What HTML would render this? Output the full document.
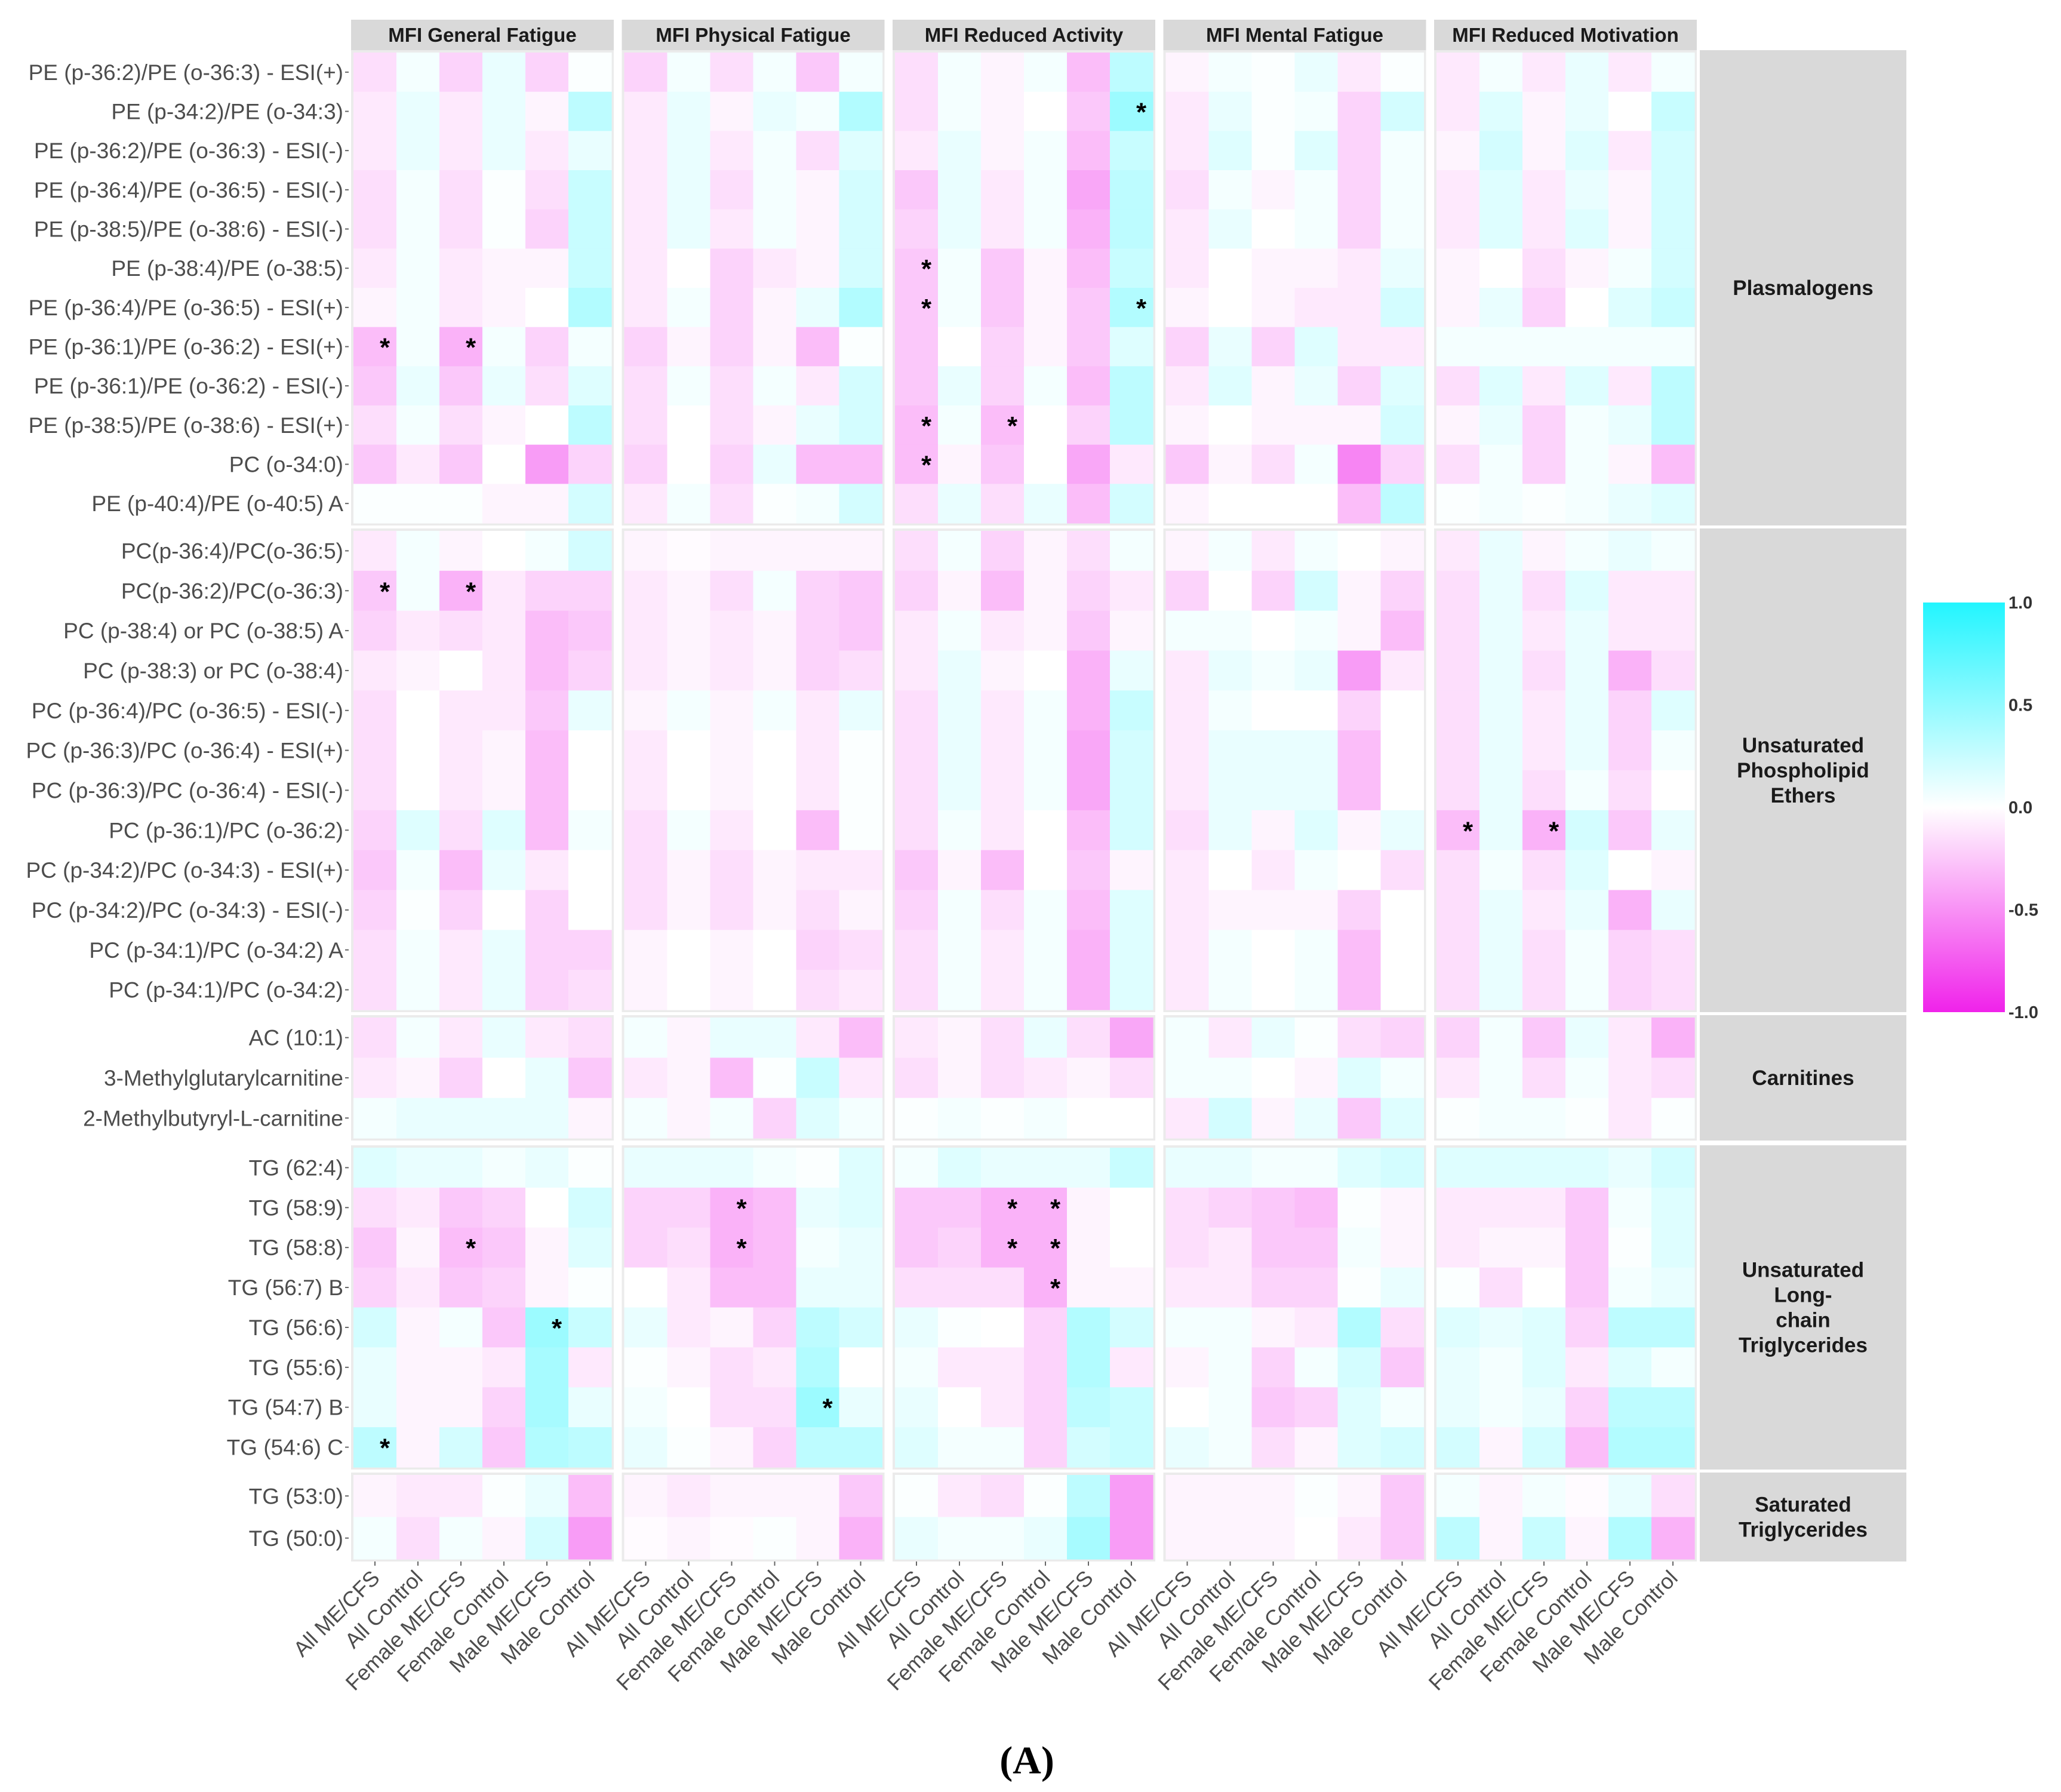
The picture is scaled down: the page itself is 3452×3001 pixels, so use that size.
<!DOCTYPE html>
<html><head><meta charset="utf-8">
<style>
html,body{margin:0;padding:0;background:#fff;}
svg{display:block;font-family:"Liberation Sans",Arial,sans-serif;}
</style></head>
<body>
<svg id="chart" width="3452" height="3001" viewBox="0 0 3452 3001" xmlns="http://www.w3.org/2000/svg"></svg>
<script>
const panelNames = ["MFI General Fatigue","MFI Physical Fatigue","MFI Reduced Activity","MFI Mental Fatigue","MFI Reduced Motivation"];
const colNames = ["All ME/CFS","All Control","Female ME/CFS","Female Control","Male ME/CFS","Male Control"];
const groupNames = [["Plasmalogens"],["Unsaturated","Phospholipid","Ethers"],["Carnitines"],["Unsaturated","Long-","chain","Triglycerides"],["Saturated","Triglycerides"]];
const rowsG1 = ["PE (p-36:2)/PE (o-36:3) - ESI(+)","PE (p-34:2)/PE (o-34:3)","PE (p-36:2)/PE (o-36:3) - ESI(-)","PE (p-36:4)/PE (o-36:5) - ESI(-)","PE (p-38:5)/PE (o-38:6) - ESI(-)","PE (p-38:4)/PE (o-38:5)","PE (p-36:4)/PE (o-36:5) - ESI(+)","PE (p-36:1)/PE (o-36:2) - ESI(+)","PE (p-36:1)/PE (o-36:2) - ESI(-)","PE (p-38:5)/PE (o-38:6) - ESI(+)","PC (o-34:0)","PE (p-40:4)/PE (o-40:5) A"];
const rowsG2 = ["PC(p-36:4)/PC(o-36:5)","PC(p-36:2)/PC(o-36:3)","PC (p-38:4) or PC (o-38:5) A","PC (p-38:3) or PC (o-38:4)","PC (p-36:4)/PC (o-36:5) - ESI(-)","PC (p-36:3)/PC (o-36:4) - ESI(+)","PC (p-36:3)/PC (o-36:4) - ESI(-)","PC (p-36:1)/PC (o-36:2)","PC (p-34:2)/PC (o-34:3) - ESI(+)","PC (p-34:2)/PC (o-34:3) - ESI(-)","PC (p-34:1)/PC (o-34:2) A","PC (p-34:1)/PC (o-34:2)"];
const rowsG3 = ["AC (10:1)","3-Methylglutarylcarnitine","2-Methylbutyryl-L-carnitine"];
const rowsG4 = ["TG (62:4)","TG (58:9)","TG (58:8)","TG (56:7) B","TG (56:6)","TG (55:6)","TG (54:7) B","TG (54:6) C"];
const rowsG5 = ["TG (53:0)","TG (50:0)"];

const valuesG1 = [
[-0.15,0.05,-0.2,0.1,-0.2,0.02, -0.2,0.05,-0.15,0.05,-0.25,0.05, -0.15,0.05,-0.05,0.05,-0.3,0.3, -0.05,0.05,0.02,0.1,-0.1,0.02, -0.1,0.05,-0.1,0.1,-0.1,0.05],
[-0.1,0.1,-0.1,0.1,-0.05,0.3, -0.1,0.1,-0.05,0.1,0.05,0.35, -0.15,0.05,-0.05,0.0,-0.25,0.45, -0.1,0.1,0.02,0.05,-0.2,0.2, -0.1,0.15,-0.05,0.1,0.0,0.25],
[-0.1,0.1,-0.1,0.1,-0.1,0.1, -0.1,0.1,-0.1,0.05,-0.15,0.15, -0.1,0.1,-0.05,0.05,-0.3,0.25, -0.1,0.15,0.02,0.15,-0.2,0.05, -0.05,0.2,-0.05,0.15,-0.1,0.2],
[-0.15,0.05,-0.15,0.02,-0.15,0.25, -0.1,0.1,-0.15,0.05,-0.05,0.2, -0.25,0.1,-0.1,0.05,-0.4,0.3, -0.15,0.05,-0.05,0.05,-0.2,0.05, -0.1,0.15,-0.1,0.1,-0.05,0.2],
[-0.15,0.05,-0.15,0.02,-0.2,0.25, -0.1,0.1,-0.1,0.05,-0.05,0.2, -0.2,0.1,-0.1,0.05,-0.35,0.3, -0.1,0.1,0.0,0.05,-0.2,0.05, -0.1,0.15,-0.1,0.15,-0.05,0.2],
[-0.1,0.05,-0.1,-0.05,-0.05,0.25, -0.1,0.0,-0.2,-0.1,-0.05,0.2, -0.25,0.05,-0.25,-0.05,-0.3,0.25, -0.1,0.0,-0.05,-0.05,-0.1,0.1, -0.05,0.0,-0.15,-0.05,0.05,0.2],
[-0.05,0.05,-0.1,-0.05,0.0,0.35, -0.1,0.05,-0.2,-0.05,0.1,0.35, -0.25,0.05,-0.25,-0.05,-0.25,0.35, -0.05,0.0,-0.05,-0.1,-0.1,0.2, -0.05,0.1,-0.2,0.0,0.15,0.25],
[-0.3,0.05,-0.35,0.05,-0.2,0.05, -0.2,-0.05,-0.2,-0.05,-0.3,0.02, -0.25,0.0,-0.2,-0.05,-0.25,0.15, -0.2,0.1,-0.2,0.15,-0.1,-0.1, 0.05,0.05,0.05,0.05,0.05,0.05],
[-0.25,0.1,-0.25,0.1,-0.15,0.15, -0.15,0.05,-0.15,0.05,-0.1,0.2, -0.25,0.1,-0.2,0.05,-0.3,0.3, -0.1,0.15,-0.05,0.1,-0.2,0.15, -0.15,0.15,-0.1,0.15,-0.1,0.3],
[-0.15,0.05,-0.15,-0.05,0.0,0.3, -0.15,0.0,-0.15,-0.05,0.1,0.2, -0.3,0.05,-0.3,0.0,-0.2,0.3, -0.05,0.0,-0.05,-0.05,-0.05,0.2, -0.05,0.1,-0.2,0.05,0.1,0.3],
[-0.25,-0.1,-0.25,0.0,-0.45,-0.2, -0.2,0.0,-0.2,0.1,-0.3,-0.3, -0.3,-0.05,-0.25,0.0,-0.4,-0.1, -0.25,-0.05,-0.15,0.05,-0.55,-0.2, -0.15,0.05,-0.2,0.05,-0.05,-0.3],
[0.02,0.02,0.02,-0.05,-0.05,0.2, -0.1,0.05,-0.15,0.02,0.05,0.2, -0.15,0.1,-0.15,0.1,-0.3,0.2, -0.05,0.0,0.0,0.0,-0.3,0.3, 0.02,0.05,0.02,0.05,0.1,0.15]
];
const valuesG2 = [
[-0.1,0.05,-0.05,0.0,0.05,0.2, -0.05,-0.02,-0.05,-0.05,-0.05,-0.05, -0.15,0.05,-0.2,-0.05,-0.15,0.05, -0.05,0.05,-0.1,0.05,0.0,-0.05, -0.1,0.1,-0.05,0.05,0.1,0.05],
[-0.25,0.05,-0.35,-0.1,-0.2,-0.2, -0.1,-0.05,-0.15,0.05,-0.2,-0.25, -0.2,-0.05,-0.3,-0.05,-0.2,-0.1, -0.2,0.0,-0.2,0.2,-0.05,-0.2, -0.15,0.1,-0.15,0.15,-0.1,-0.1],
[-0.2,-0.1,-0.15,-0.1,-0.3,-0.25, -0.1,-0.05,-0.1,-0.05,-0.2,-0.25, -0.1,0.05,-0.1,-0.05,-0.25,-0.05, 0.05,0.05,0.0,0.05,-0.05,-0.3, -0.15,0.1,-0.1,0.1,-0.1,-0.1],
[-0.1,-0.05,0.0,-0.1,-0.3,-0.2, -0.1,-0.05,-0.1,-0.05,-0.2,-0.15, -0.1,0.1,-0.05,0.0,-0.35,0.1, -0.1,0.1,0.05,0.1,-0.45,-0.1, -0.15,0.1,-0.15,0.1,-0.35,-0.15],
[-0.15,0.0,-0.1,-0.1,-0.25,0.1, -0.05,0.05,-0.05,0.05,-0.1,0.1, -0.15,0.1,-0.1,0.05,-0.35,0.25, -0.1,0.05,0.0,0.0,-0.2,0.0, -0.15,0.1,-0.1,0.1,-0.2,0.15],
[-0.15,0.0,-0.1,-0.05,-0.3,0.0, -0.1,0.0,-0.05,0.0,-0.1,0.02, -0.15,0.1,-0.1,0.05,-0.4,0.2, -0.1,0.1,0.1,0.1,-0.3,0.0, -0.15,0.1,-0.1,0.1,-0.2,0.05],
[-0.15,0.0,-0.1,-0.05,-0.3,0.0, -0.1,0.0,-0.05,0.0,-0.1,0.02, -0.15,0.1,-0.1,0.05,-0.4,0.2, -0.1,0.1,0.1,0.1,-0.3,0.0, -0.15,0.1,-0.15,0.05,-0.15,0.0],
[-0.2,0.15,-0.15,0.15,-0.3,0.05, -0.15,0.05,-0.1,0.0,-0.3,0.02, -0.15,0.05,-0.1,0.0,-0.3,0.2, -0.15,0.1,-0.05,0.15,-0.05,0.1, -0.3,0.1,-0.35,0.2,-0.25,0.1],
[-0.25,0.05,-0.3,0.1,-0.1,0.0, -0.15,-0.05,-0.15,-0.05,-0.1,-0.1, -0.25,-0.05,-0.3,0.0,-0.25,-0.05, -0.1,0.0,-0.1,0.05,0.0,-0.15, -0.15,0.05,-0.15,0.15,0.0,-0.05],
[-0.2,0.02,-0.2,0.0,-0.2,0.0, -0.15,-0.05,-0.15,-0.05,-0.15,-0.05, -0.2,0.05,-0.15,0.05,-0.3,0.15, -0.1,-0.05,-0.05,-0.05,-0.2,0.0, -0.15,0.1,-0.1,0.1,-0.35,0.1],
[-0.15,0.05,-0.1,0.1,-0.2,-0.2, -0.05,0.0,-0.05,0.0,-0.2,-0.15, -0.15,0.05,-0.1,0.05,-0.35,0.15, -0.1,0.05,0.0,0.05,-0.3,0.0, -0.15,0.1,-0.15,0.05,-0.2,-0.15],
[-0.15,0.05,-0.1,0.1,-0.2,-0.15, -0.05,0.0,-0.05,0.0,-0.15,-0.1, -0.15,0.05,-0.1,0.05,-0.35,0.15, -0.1,0.05,0.0,0.05,-0.3,0.0, -0.15,0.1,-0.15,0.05,-0.2,-0.15]
];
const valuesG3 = [
[-0.15,0.05,-0.1,0.1,-0.1,-0.15, 0.05,-0.05,0.1,0.1,-0.1,-0.3, -0.1,-0.05,-0.15,0.1,-0.15,-0.4, 0.05,-0.1,0.1,0.02,-0.15,-0.2, -0.2,0.05,-0.25,0.1,-0.1,-0.35],
[-0.1,-0.05,-0.2,0.0,0.1,-0.25, -0.1,-0.05,-0.3,0.02,0.25,-0.1, -0.15,-0.05,-0.15,-0.1,-0.05,-0.15, 0.05,0.05,0.0,-0.05,0.15,0.05, -0.1,0.05,-0.15,0.05,-0.1,-0.15],
[0.05,0.1,0.1,0.1,0.1,-0.05, 0.05,-0.05,0.05,-0.2,0.15,0.05, 0.02,0.05,0.02,0.05,0.0,0.0, -0.1,0.2,-0.05,0.1,-0.25,0.15, 0.02,0.05,0.05,0.02,-0.1,0.02]
];
const valuesG4 = [
[0.15,0.1,0.1,0.05,0.1,0.02, 0.1,0.1,0.1,0.05,0.02,0.15, 0.05,0.15,0.1,0.1,0.1,0.25, 0.1,0.1,0.05,0.05,0.15,0.2, 0.15,0.15,0.15,0.15,0.1,0.2],
[-0.15,-0.1,-0.25,-0.2,0.0,0.2, -0.2,-0.2,-0.35,-0.3,0.1,0.15, -0.25,-0.25,-0.35,-0.35,-0.05,0.0, -0.15,-0.2,-0.25,-0.3,0.02,-0.05, -0.1,-0.1,-0.1,-0.25,0.05,0.15],
[-0.25,-0.05,-0.3,-0.25,-0.05,0.15, -0.2,-0.15,-0.35,-0.3,0.05,0.1, -0.25,-0.2,-0.35,-0.35,-0.05,0.0, -0.15,-0.1,-0.25,-0.25,0.05,-0.05, -0.1,-0.05,-0.05,-0.25,0.02,0.15],
[-0.2,-0.1,-0.25,-0.2,-0.05,0.02, 0.0,-0.1,-0.3,-0.3,0.1,0.1, -0.15,-0.15,-0.15,-0.35,-0.05,-0.05, -0.1,-0.1,-0.2,-0.2,0.02,0.1, 0.02,-0.15,0.0,-0.25,0.05,0.1],
[0.2,-0.05,0.05,-0.25,0.45,0.25, 0.1,-0.1,-0.05,-0.2,0.3,0.2, 0.1,0.02,0.0,-0.2,0.35,0.2, 0.05,0.05,-0.05,-0.1,0.35,-0.15, 0.15,0.1,0.15,-0.2,0.3,0.3],
[0.1,-0.05,-0.05,-0.1,0.4,-0.1, 0.02,-0.05,-0.15,-0.1,0.35,0.0, 0.05,-0.1,-0.1,-0.2,0.35,-0.1, -0.05,0.05,-0.2,0.05,0.2,-0.25, 0.1,0.05,0.15,-0.1,0.15,0.05],
[0.1,-0.05,-0.05,-0.2,0.4,0.1, 0.05,0.0,-0.15,-0.15,0.45,0.1, 0.1,0.0,-0.1,-0.2,0.3,0.25, 0.0,0.05,-0.25,-0.2,0.15,0.05, 0.1,0.05,0.1,-0.2,0.3,0.3],
[0.3,-0.05,0.2,-0.25,0.35,0.3, 0.1,0.02,-0.05,-0.2,0.3,0.3, 0.15,0.05,0.05,-0.2,0.2,0.25, 0.1,0.05,-0.15,-0.05,0.15,0.2, 0.2,-0.05,0.2,-0.3,0.35,0.35]
];
const valuesG5 = [
[-0.05,-0.1,-0.1,0.02,0.1,-0.3, -0.05,-0.1,-0.05,-0.05,-0.05,-0.25, 0.02,-0.1,-0.15,0.02,0.3,-0.45, -0.05,-0.05,-0.05,0.02,-0.05,-0.25, 0.05,-0.05,0.05,-0.02,0.1,-0.15],
[0.05,-0.15,0.05,-0.05,0.2,-0.45, -0.02,-0.05,-0.02,0.02,-0.05,-0.35, 0.1,0.05,0.05,0.1,0.4,-0.45, -0.05,-0.05,-0.05,0.0,-0.1,-0.25, 0.3,-0.05,0.25,-0.05,0.35,-0.35]
];
const sigCells = [[0,1,17],[0,5,12],[0,6,12],[0,6,17],[0,7,0],[0,7,2],[0,9,12],[0,9,14],[0,10,12],
[1,1,0],[1,1,2],[1,7,24],[1,7,26],
[3,1,8],[3,1,14],[3,1,15],[3,2,2],[3,2,8],[3,2,14],[3,2,15],[3,3,15],[3,4,4],[3,6,10],[3,7,0]];
const cbTicks = [1.0,0.5,0.0,-0.5,-1.0];
const cbTickLabels = ["1.0","0.5","0.0","-0.5","-1.0"];

const svg = document.getElementById('chart');
const NS = "http://www.w3.org/2000/svg";
function mk(tag, attrs, parent){const e=document.createElementNS(NS,tag);for(const k in attrs)e.setAttribute(k,attrs[k]);(parent||svg).appendChild(e);return e;}

const rowLabels=[rowsG1,rowsG2,rowsG3,rowsG4,rowsG5];
const values=[valuesG1,valuesG2,valuesG3,valuesG4,valuesG5];
const P0=588, PSTEP=453.5, PW=440, PAD=4, CW=(PW-2*PAD)/6;
const groupTop=[88,889,1704,1922,2470], groupBot=[876,1691,1906,2457,2611];
const xCell=(g)=>{const p=Math.floor(g/6),c=g%6;return P0+p*PSTEP+PAD+c*CW;};
const rh=(g)=>(groupBot[g]-groupTop[g])/rowLabels[g].length;
const yRow=(g,r)=>groupTop[g]+r*rh(g);
const pos=[34,245,255], neg=[240,34,234];
function col(v){v=Math.max(-1,Math.min(1,v));const t=Math.abs(v),c=v>=0?pos:neg;return `rgb(${c.map(x=>Math.round(255+(x-255)*t)).join(',')})`;}

for(let p=0;p<5;p++){
  const r=mk('rect',{x:P0+p*PSTEP,y:33,width:PW,height:51,fill:'#d9d9d9'});
  
  
  const t=mk('text',{x:P0+p*PSTEP+PW/2,y:70,'text-anchor':'middle','font-size':33,'font-weight':'bold',fill:'#1a1a1a'});
  t.textContent=panelNames[p];
  
  
}
for(let g=0;g<5;g++){
  const RH=rh(g), y0=groupTop[g], h=groupBot[g]-y0;
  for(let p=0;p<5;p++){
    const bg=mk('rect',{x:P0+p*PSTEP,y:y0-PAD,width:PW,height:h+2*PAD,fill:'#ebebeb'});
    
    
  }
  const st=mk('rect',{x:2847,y:y0-PAD,width:346,height:h+2*PAD,fill:'#d9d9d9'});
  
  
  const lines=groupNames[g], lh=42, cy=y0+h/2;
  lines.forEach((ln,i)=>{
    const t=mk('text',{x:3020,y:cy+(i-(lines.length-1)/2)*lh+12,'text-anchor':'middle','font-size':35,'font-weight':'bold',fill:'#1a1a1a'});
    t.textContent=ln;
    
    
  });
  rowLabels[g].forEach((lab,r)=>{
    const y=yRow(g,r)+RH/2;
    const t=mk('text',{x:575,y:y+13,'text-anchor':'end','font-size':37,fill:'#4d4d4d'});
    t.textContent=lab;
    
    
    const tk=mk('line',{x1:578,x2:584,y1:y,y2:y,stroke:'#666','stroke-width':2});
    
    
    values[g][r].forEach((v,c)=>{
      const cell=mk('rect',{x:xCell(c),y:yRow(g,r),width:CW+0.6,height:RH+0.6,fill:col(v)});
      
      
    });
  });
}
sigCells.forEach(([g,r,c])=>{
  const t=mk('text',{x:xCell(c)+CW-28,y:yRow(g,r)+rh(g)/2+16,'font-size':44,'font-weight':'bold',fill:'#000'});
  t.textContent='*';
  
  
});
const yBot=groupBot[4]+PAD;
for(let g=0;g<30;g++){
  const x=xCell(g)+CW/2, y=yBot+22;
  const tk=mk('line',{x1:x,x2:x,y1:yBot,y2:yBot+7,stroke:'#666','stroke-width':2});
  
  
  const t=mk('text',{x:x+10,y:y+8,'text-anchor':'end','font-size':36,fill:'#4d4d4d',transform:`rotate(-45 ${x+10} ${y+8})`});
  t.textContent=colNames[g%6];
  
  
}
const defs=mk('defs',{});
const lg=mk('linearGradient',{id:'cbg',x1:0,y1:0,x2:0,y2:1},defs);
[[0,1],[0.25,0.5],[0.5,0],[0.75,-0.5],[1,-1]].forEach(([o,v])=>mk('stop',{offset:o,'stop-color':col(v)},lg));
const CBT=1009, CBB=1695;
const cb=mk('rect',{x:3221,y:CBT,width:137,height:CBB-CBT,fill:'url(#cbg)'});


cbTicks.forEach((v,i)=>{
  const y=CBT+(1-v)/2*(CBB-CBT);
  const t=mk('text',{x:3364,y:y+10,'font-size':29,'font-weight':'bold',fill:'#333'});
  t.textContent=cbTickLabels[i];
  
  
});
const cap=mk('text',{x:1720,y:2970,'text-anchor':'middle','font-size':66,'font-weight':'bold','font-family':'"Liberation Serif",serif',fill:'#000'});
cap.textContent='(A)';


</script>
</body></html>
